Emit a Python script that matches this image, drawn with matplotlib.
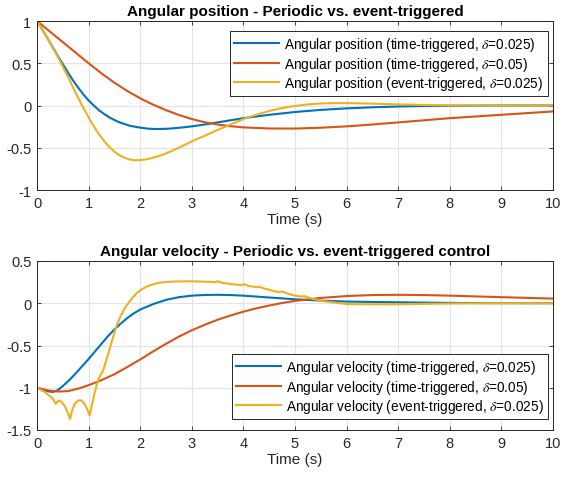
import matplotlib
matplotlib.use("Agg")
import matplotlib.pyplot as plt

plt.rcParams["font.family"] = ["Liberation Sans", "DejaVu Sans"]
plt.rcParams["axes.unicode_minus"] = False
plt.rcParams["mathtext.fontset"] = "stix"

BLUE, RED, YELLOW = "#0072BD", "#D95319", "#EDB120"

# angular position, time-triggered delta=0.025
t_pos_tt1 = [0, 0.2, 0.4, 0.5, 0.6, 0.7, 0.8, 0.9, 1.0, 1.1, 1.2, 1.3, 1.4, 1.5, 1.6, 1.8,
             2.0, 2.15, 2.3, 2.45, 2.6, 2.8, 3.0, 3.25, 3.5, 3.75, 4.0, 4.5, 5.0, 5.5,
             6.0, 6.5, 7.0, 7.5, 8.0, 9.0, 10.0]
pos_tt1 = [1, 0.8, 0.59, 0.49, 0.39, 0.295, 0.21, 0.13, 0.06, 0.0, -0.055, -0.1, -0.14,
           -0.172, -0.2, -0.24, -0.262, -0.274, -0.278, -0.277, -0.272, -0.261, -0.247,
           -0.225, -0.2, -0.175, -0.15, -0.11, -0.077, -0.052, -0.034, -0.021, -0.012,
           -0.006, -0.003, 0, 0]

# angular position, time-triggered delta=0.05
t_pos_tt2 = [0, 0.25, 0.5, 0.75, 1.0, 1.25, 1.5, 1.75, 2.0, 2.25, 2.5, 2.75, 3.0, 3.25,
             3.5, 3.75, 4.0, 4.5, 5.0, 5.5, 6.0, 6.5, 7.0, 7.5, 8.0, 8.5, 9.0, 9.5, 10.0]
pos_tt2 = [1, 0.875, 0.75, 0.625, 0.5, 0.38, 0.27, 0.172, 0.085, 0.01, -0.055, -0.112,
           -0.16, -0.198, -0.225, -0.245, -0.259, -0.272, -0.273, -0.263, -0.247, -0.225,
           -0.2, -0.175, -0.15, -0.13, -0.11, -0.09, -0.07]

# angular position, event-triggered delta=0.025
t_pos_et = [0, 0.2, 0.4, 0.5, 0.6, 0.7, 0.8, 0.9, 1.0, 1.1, 1.2, 1.3, 1.4, 1.5, 1.6, 1.7,
            1.8, 1.9, 2.0, 2.1, 2.2, 2.35, 2.5, 2.75, 3.0, 3.5, 4.0, 4.25, 4.5, 4.75,
            5.0, 5.25, 5.5, 5.75, 6.0, 6.5, 7.0, 7.5, 8.0, 9.0, 10.0]
pos_et = [1, 0.8, 0.58, 0.46, 0.34, 0.21, 0.09, -0.03, -0.14, -0.245, -0.34, -0.42, -0.49,
          -0.545, -0.59, -0.62, -0.64, -0.648, -0.646, -0.639, -0.626, -0.6, -0.568,
          -0.5, -0.425, -0.29, -0.16, -0.11, -0.065, -0.03, -0.005, 0.013, 0.024, 0.028,
          0.028, 0.022, 0.013, 0.006, 0.002, 0, 0]

# angular velocity, time-triggered delta=0.025
t_vel_tt1 = [0, 0.1, 0.2, 0.3, 0.4, 0.5, 0.625, 0.75, 0.875, 1.0, 1.125, 1.25, 1.375, 1.5,
             1.625, 1.75, 1.875, 2.0, 2.25, 2.5, 2.75, 3.0, 3.25, 3.5, 3.75, 4.0, 4.5,
             5.0, 5.5, 6.0, 6.5, 7.0, 8.0, 9.0, 10.0]
vel_tt1 = [-1, -1.02, -1.04, -1.05, -1.03, -0.98, -0.91, -0.83, -0.745, -0.66, -0.57,
           -0.48, -0.39, -0.31, -0.24, -0.175, -0.12, -0.075, -0.01, 0.04, 0.072, 0.09,
           0.098, 0.1, 0.097, 0.09, 0.068, 0.047, 0.031, 0.02, 0.015, 0.011, 0.004,
           0.001, 0]

# angular velocity, time-triggered delta=0.05
t_vel_tt2 = [0, 0.2, 0.4, 0.6, 0.8, 1.0, 1.25, 1.5, 1.75, 2.0, 2.25, 2.5, 2.75, 3.0, 3.25,
             3.5, 3.75, 4.0, 4.25, 4.5, 4.75, 5.0, 5.5, 6.0, 6.5, 7.0, 7.5, 8.0, 9.0, 10.0]
vel_tt2 = [-1, -1.03, -1.045, -1.04, -1.01, -0.97, -0.91, -0.84, -0.755, -0.665, -0.57,
           -0.48, -0.395, -0.32, -0.255, -0.195, -0.145, -0.1, -0.06, -0.027, 0.003,
           0.028, 0.063, 0.085, 0.097, 0.1, 0.097, 0.09, 0.072, 0.055]

# angular velocity, event-triggered delta=0.025
t_vel_et = [0, 0.15, 0.31, 0.36, 0.42, 0.48, 0.54, 0.6, 0.64, 0.68, 0.73, 0.8, 0.86,
            0.92, 0.97, 1.02, 1.06, 1.1, 1.16, 1.22, 1.28, 1.33, 1.38, 1.46, 1.54, 1.62,
            1.7, 1.78, 1.86, 1.94, 2.02, 2.1, 2.2, 2.3, 2.4, 2.55, 2.7, 3.0, 3.3, 3.45,
            3.5, 3.6, 3.8, 3.95, 4.02, 4.1, 4.25, 4.31, 4.4, 4.55, 4.68, 4.75, 4.85, 5.0,
            5.12, 5.18, 5.3, 5.5, 6.0, 6.5, 7.0, 8.0, 9.0, 10.0]
vel_et = [-1, -1.05, -1.13, -1.19, -1.15, -1.17, -1.22, -1.3, -1.37, -1.27, -1.19, -1.15,
          -1.15, -1.19, -1.25, -1.33, -1.22, -1.1, -0.96, -0.86, -0.8, -0.7, -0.6, -0.43,
          -0.27, -0.15, -0.06, 0.01, 0.07, 0.125, 0.16, 0.19, 0.215, 0.233, 0.245, 0.254,
          0.258, 0.26, 0.255, 0.25, 0.26, 0.24, 0.225, 0.215, 0.225, 0.205, 0.19, 0.195,
          0.175, 0.15, 0.13, 0.14, 0.115, 0.09, 0.08, 0.085, 0.06, 0.028, -0.01, -0.013,
          -0.012, -0.003, 0, 0]

fig = plt.figure(figsize=(5.65, 4.81), dpi=100)
ax1 = fig.add_axes([37 / 565, 1 - 191 / 481, 516 / 565, 169 / 481])
ax2 = fig.add_axes([37 / 565, 1 - 431 / 481, 516 / 565, 169 / 481])


def style(ax, ylim, yticks, ylabels):
    ax.set_xlim(0, 10)
    ax.set_ylim(*ylim)
    ax.set_xticks(range(11))
    ax.set_yticks(yticks)
    ax.set_yticklabels(ylabels)
    ax.grid(True, color="#e3e3e3", lw=0.8)
    ax.set_axisbelow(True)
    ax.tick_params(direction="in", top=True, right=True, length=3, width=0.6,
                   labelsize=10.5, colors="#262626", pad=4)
    for s in ax.spines.values():
        s.set_color("#262626")
        s.set_linewidth(0.7)
    ax.set_xlabel("Time (s)", fontsize=11, color="#262626", labelpad=2)


def legend(ax, loc, anchor):
    leg = ax.legend(loc=loc, bbox_to_anchor=anchor, fontsize=9.8, fancybox=False,
                    edgecolor="#262626", framealpha=1, borderpad=0.3, handlelength=3.3,
                    labelspacing=0.1, handletextpad=0.4, borderaxespad=0)
    leg.get_frame().set_linewidth(0.7)


ax1.plot(t_pos_tt1, pos_tt1, color=BLUE, lw=1.5,
         label=r"Angular position (time-triggered, $\delta$=0.025)")
ax1.plot(t_pos_tt2, pos_tt2, color=RED, lw=1.5,
         label=r"Angular position (time-triggered, $\delta$=0.05)")
ax1.plot(t_pos_et, pos_et, color=YELLOW, lw=1.5,
         label=r"Angular position (event-triggered, $\delta$=0.025)")
style(ax1, (-1, 1), [-1, -0.5, 0, 0.5, 1], ["-1", "-0.5", "0", "0.5", "1"])
ax1.set_title("Angular position - Periodic vs. event-triggered", fontsize=11,
              fontweight="bold", pad=4)
legend(ax1, "upper right", (0.99, 0.94))

ax2.plot(t_vel_tt1, vel_tt1, color=BLUE, lw=1.5,
         label=r"Angular velocity (time-triggered, $\delta$=0.025)")
ax2.plot(t_vel_tt2, vel_tt2, color=RED, lw=1.5,
         label=r"Angular velocity (time-triggered, $\delta$=0.05)")
ax2.plot(t_vel_et, vel_et, color=YELLOW, lw=1.5,
         label=r"Angular velocity (event-triggered, $\delta$=0.025)")
style(ax2, (-1.5, 0.5), [-1.5, -1, -0.5, 0, 0.5], ["-1.5", "-1", "-0.5", "0", "0.5"])
ax2.set_title("Angular velocity - Periodic vs. event-triggered control", fontsize=11,
              fontweight="bold", pad=4)
legend(ax2, "lower right", (0.99, 0.065))

fig.savefig("out.png", dpi=100)
